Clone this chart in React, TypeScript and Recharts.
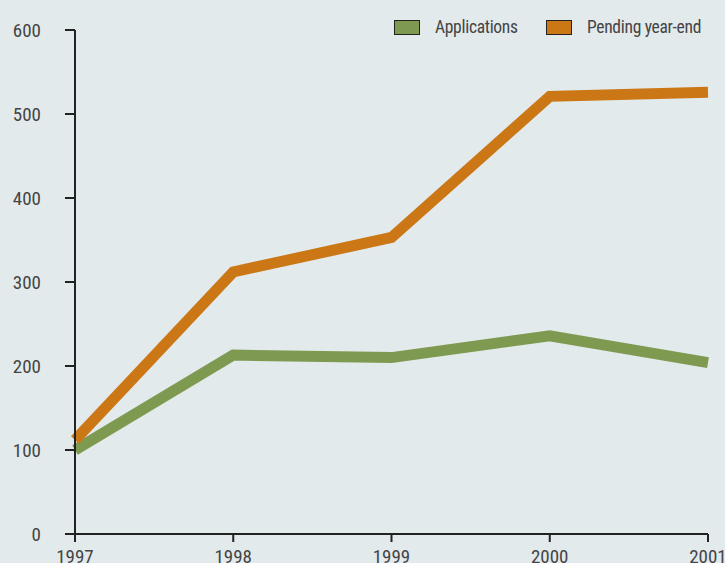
import React from "react";
import { LineChart, Line, XAxis, YAxis } from "recharts";

const years = ["1997", "1998", "1999", "2000", "2001"];
const applications = [100, 213, 210, 236, 204];
const pending = [112, 312, 353, 521, 526];
const yTicks = [0, 100, 200, 300, 400, 500, 600];

const data = years.map((y, i) => ({ year: y, applications: applications[i], pending: pending[i] }));

const FONT = "'Liberation Sans Narrow', 'Arial Narrow', 'Roboto Condensed', sans-serif";
const GREEN = "#7e9a50";
const ORANGE = "#cc7716";

const legendItems = [
  { label: "Applications", color: GREEN, x: 0 },
  { label: "Pending year-end", color: ORANGE, x: 152 },
];

const ChartLegend = () => (
  <div style={{ position: "absolute", top: 17, left: 394, width: 330, height: 20, fontFamily: FONT, fontSize: 17.5, color: "#444" }}>
    {legendItems.map((it) => (
      <div key={it.label} style={{ position: "absolute", left: it.x, top: 0, display: "flex", alignItems: "center", whiteSpace: "nowrap" }}>
        <div style={{ width: 24, height: 13, background: it.color, border: "1.5px solid #222", marginRight: 15 }} />
        <span style={{ letterSpacing: -0.3 }}>{it.label}</span>
      </div>
    ))}
  </div>
);

export default function App() {
  return (
    <div style={{ position: "absolute", left: 0, top: 0, width: 725, height: 563, background: "#e3eaec", overflow: "hidden" }}>
      <LineChart width={725} height={563} data={data} margin={{ top: 30, right: 17, bottom: 0, left: 0 }}>
        <XAxis
          dataKey="year"
          axisLine={{ stroke: "#222", strokeWidth: 2 }}
          tickLine={{ stroke: "#222", strokeWidth: 2 }}
          tickSize={8}
          tickMargin={8}
          tick={{ fill: "#444", fontSize: 19, fontFamily: FONT }}
          interval={0}
          height={29}
        />
        <YAxis
          domain={[0, 600]}
          ticks={yTicks}
          width={75}
          axisLine={{ stroke: "#222", strokeWidth: 2 }}
          tickLine={{ stroke: "#222", strokeWidth: 2 }}
          tickSize={10}
          tickMargin={24}
          tick={{ fill: "#444", fontSize: 19, fontFamily: FONT }}
        />
        <Line dataKey="applications" stroke={GREEN} strokeWidth={11} dot={false} activeDot={false} isAnimationActive={false} />
        <Line dataKey="pending" stroke={ORANGE} strokeWidth={11} dot={false} activeDot={false} isAnimationActive={false} />
      </LineChart>
      <ChartLegend />
    </div>
  );
}
